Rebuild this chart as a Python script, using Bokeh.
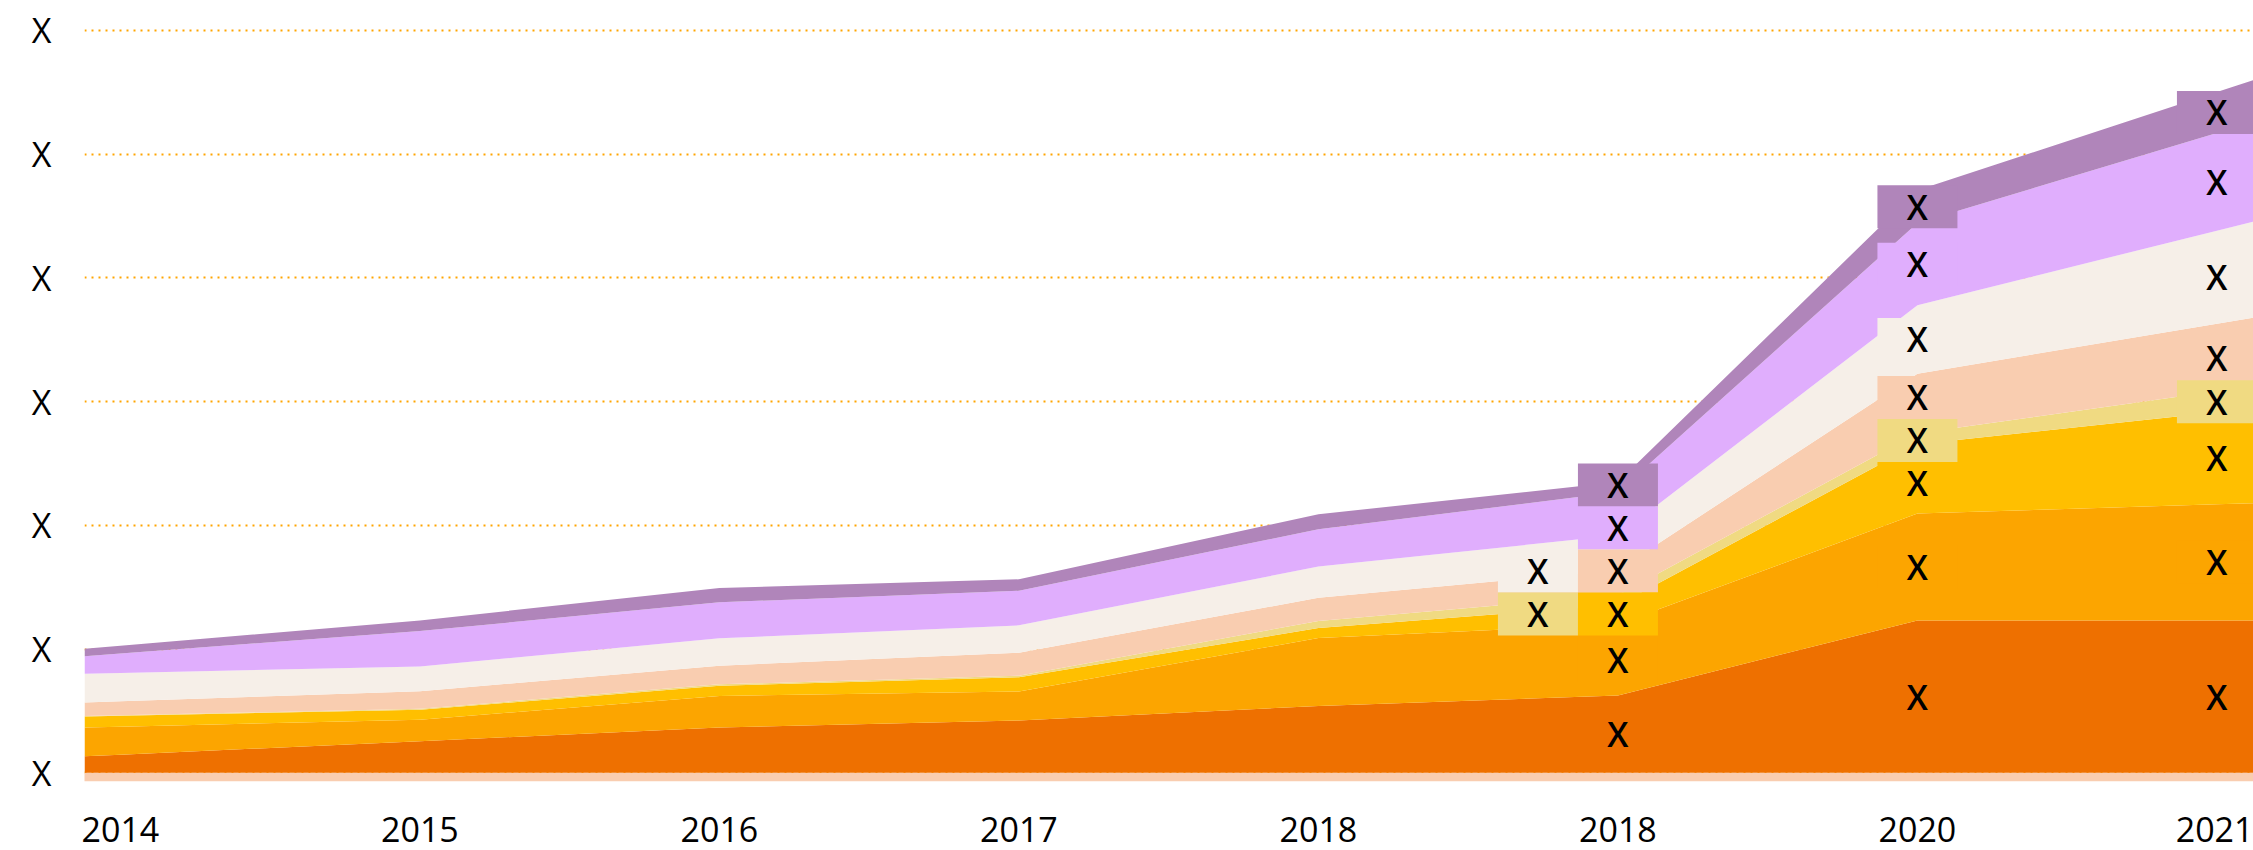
import numpy as np
from bokeh.plotting import figure
from bokeh.models import Range1d, FixedTicker, ColumnDataSource
from bokeh.core.properties import value, field
from bokeh.embed import file_html
from bokeh.resources import INLINE

# ---------------- data ----------------
years = ["2014", "2015", "2016", "2017", "2018", "2018", "2020", "2021"]
series_names = ["s1", "s2", "s3", "s4", "s5", "s6", "s7", "s8"]  # bottom -> top
s1 = [14.7, 25.6, 36.6, 42.4, 54.1, 62.5, 123.2, 123.2]
s2 = [22.6, 17.3, 25.6, 23.3, 54.9, 57.5, 86.3, 93.8]
s3 = [8.9, 8.1, 8.1, 11.6, 8.0, 15.7, 56.0, 74.4]
s4 = [0.3, 0.8, 1.2, 1.2, 5.7, 7.9, 8.9, 16.9]
s5 = [11.4, 14.2, 15.1, 18.6, 18.8, 20.4, 48.2, 54.6]
s6 = [22.8, 20.0, 22.1, 22.1, 25.2, 28.0, 55.3, 75.3]
s7 = [15.8, 28.6, 29.1, 27.9, 30.1, 35.0, 66.4, 79.0]
s8 = [6.2, 8.6, 11.6, 9.3, 12.2, 8.0, 26.5, 33.0]
colors = ["#EE7000", "#FCA500", "#FFBF00", "#F0DA82",
          "#F9CDB0", "#F6EFE8", "#E0AEFD", "#B085BA"]
y_ticks = [0, 100, 200, 300, 400, 500, 600]
y_tick_labels = ["X", "X", "X", "X", "X", "X", "X"]
point_label = "X"
labelled_points = [5, 6, 7]

series = [s1, s2, s3, s4, s5, s6, s7, s8]

# ---------------- layout ----------------
W, H = 2253, 850
B_LEFT, B_TOP, B_BOTTOM = 84, 25, 69
FRAME_W = W - B_LEFT
FRAME_H = H - B_TOP - B_BOTTOM
X_START = -0.12
X_END = X_START + FRAME_W / 299.5
Y_START, Y_END = -7, 604
XPPU = FRAME_W / (X_END - X_START)
YPPU = FRAME_H / (Y_END - Y_START)
BOX_W, BOX_H = 80, 43
FONT = "Open Sans"
FSIZE = "34px"
LABEL_FONT = "'Open Sans SemiBold', 'Open Sans Semibold', 'Open Sans'"

p = figure(width=W, height=H, x_range=Range1d(X_START, X_END),
           y_range=Range1d(Y_START, Y_END), output_backend="svg",
           toolbar_location=None, min_border_left=B_LEFT, min_border_right=0,
           min_border_top=B_TOP, min_border_bottom=B_BOTTOM)
p.outline_line_color = None
p.background_fill_color = "white"
p.border_fill_color = "white"

# grid
p.xgrid.visible = False
p.ygrid.ticker = FixedTicker(ticks=y_ticks)
p.ygrid.grid_line_color = "#FFA500"
p.ygrid.grid_line_width = 2
p.ygrid.grid_line_dash = "2 5"

# axes
xa = p.xaxis[0]
xa.ticker = FixedTicker(ticks=list(range(len(years))))
xa.major_label_overrides = {i: y for i, y in enumerate(years)}
ya = p.yaxis[0]
ya.ticker = FixedTicker(ticks=y_ticks)
ya.major_label_overrides = {t: l for t, l in zip(y_ticks, y_tick_labels)}
for ax in (xa, ya):
    ax.axis_line_color = None
    ax.major_tick_line_color = None
    ax.minor_tick_line_color = None
    ax.major_label_text_font = FONT
    ax.major_label_text_font_size = FSIZE
    ax.major_label_text_color = "black"
xa.major_label_standoff = 29
ya.major_label_standoff = 27

# baseline band under the stack
p.line(x=[X_START, X_END], y=[Y_START / 2, Y_START / 2],
       line_width=abs(Y_START) * YPPU, line_cap="round", color=colors[4])

# stacked areas (edges continued to the frame sides)
xs = list(range(len(years)))
x_ext = [X_START] + xs + [X_END]
data = {"x": x_ext}
for name, s in zip(series_names, series):
    left = s[0] - (0 - X_START) * (s[1] - s[0])
    right = s[-1] + (X_END - xs[-1]) * (s[-1] - s[-2])
    data[name] = [left] + list(s) + [right]
src = ColumnDataSource(data)
p.varea_stack(stackers=series_names, x="x", color=colors, source=src)

# labels on the last points
lx, ly, lc, lt = [], [], [], []
for i in labelled_points:
    vals = np.array([s[i] for s in series], dtype=float)
    tops = np.cumsum(vals)
    mids = tops - vals / 2
    order = list(range(len(series)))[::-1]  # top -> bottom
    nat = {k: (Y_END - mids[k]) * YPPU for k in order}
    rows = []
    last = -1e9
    idx = 0
    while idx < len(order):
        k = order[idx]
        r = max(nat[k], last + BOX_H)
        if idx + 1 < len(order):
            k2 = order[idx + 1]
            if nat[k2] < r + 0.45 * BOX_H:
                if abs(nat[k2] - r) < abs(nat[k] - r):
                    rows.append([r, k2, k])
                else:
                    rows.append([r, k, k2])
                last = r
                idx += 2
                continue
        rows.append([r, k, None])
        last = r
        idx += 1
    # centre clusters of touching rows on their natural positions
    j = 0
    while j < len(rows):
        e = j
        while e + 1 < len(rows) and rows[e + 1][0] - rows[e][0] <= BOX_H + 0.5:
            e += 1
        if e > j:
            grp = rows[j:e + 1]
            shift = np.mean([nat[g[1]] for g in grp]) - np.mean([g[0] for g in grp])
            lo = rows[j - 1][0] + BOX_H if j > 0 else -1e9
            hi = rows[e + 1][0] - BOX_H if e + 1 < len(rows) else 1e9
            if grp[0][0] + shift >= lo and grp[-1][0] + shift <= hi:
                for g in grp:
                    g[0] += shift
        j = e + 1
    for r, main, left in rows:
        yv = Y_END - r / YPPU
        lx.append(i); ly.append(yv); lc.append(colors[main]); lt.append(point_label)
        if left is not None:
            lx.append(i - BOX_W / XPPU); ly.append(yv); lc.append(colors[left]); lt.append(point_label)

lsrc = ColumnDataSource(dict(x=lx, y=ly, fill=lc, text=lt))
p.rect(x="x", y="y", width=BOX_W, height=BOX_H, width_units="screen",
       height_units="screen", fill_color=field("fill"), line_color=None, source=lsrc)
p.text(x="x", y="y", text="text", text_font=value(LABEL_FONT), text_font_size=FSIZE,
       text_align="center", text_baseline="middle", text_color="black", source=lsrc)

open("out.html", "w").write(file_html(p, INLINE))
